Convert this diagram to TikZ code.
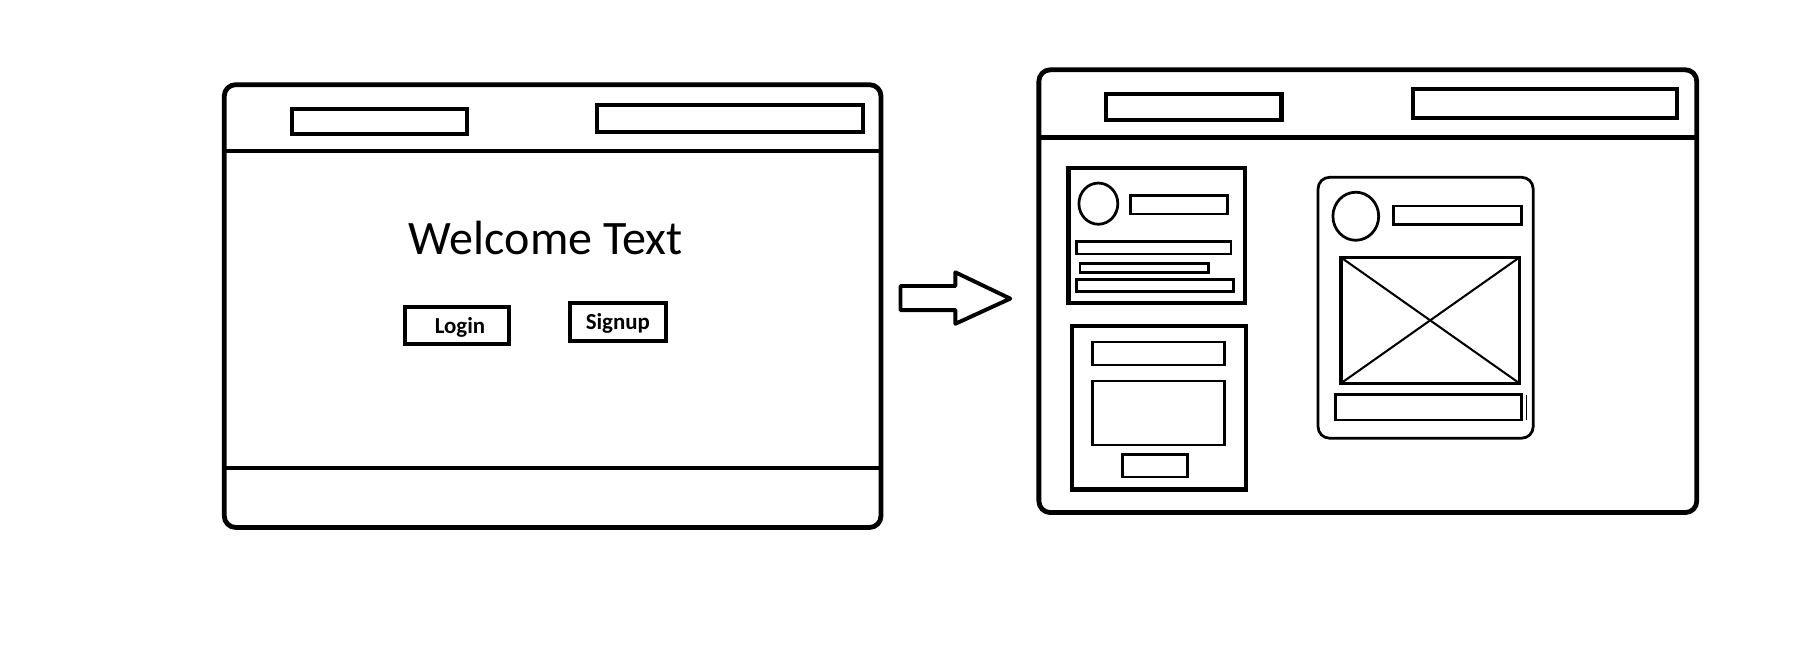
\documentclass[tikz,border=0pt]{standalone}
\usepackage{fontspec}
\setmainfont{Carlito}
\begin{document}
\begin{tikzpicture}[x=0.5pt,y=-0.5pt,
  frame/.style={line width=2.1pt, rounded corners=5pt, line join=round},
  rule/.style={line width=2.1pt},
  bar/.style={line width=1.8pt},
  card/.style={line width=2pt},
  slim/.style={line width=1.2pt},
  label/.style={inner sep=0pt, font=\fontsize{10pt}{12pt}\selectfont\bfseries}]
\useasboundingbox[fill=white] (0,0) rectangle (1568,566);

% ---- welcome page ----
\draw[frame] (196,74) rectangle (770,461);
\draw[rule] (196,132) -- (770,132);
\draw[rule] (196,409) -- (770,409);
\draw[bar] (255,95) rectangle (408,117);
\draw[bar] (522,92) rectangle (754,115);
\node[inner sep=0pt, font=\fontsize{21pt}{25pt}\selectfont] (welcome) at (477,208) {Welcome Text};
\draw[bar] (354,268) rectangle (445,301);
\node[label] (login) at (402,286) {Login};
\draw[bar] (498,265) rectangle (582,298);
\node[label] (signup) at (540,283) {Signup};

% ---- transition arrow ----
\draw[line width=1.7pt, line join=round]
  (787,250) -- (835,250) -- (835,238) -- (883,261) -- (835,283) -- (835,271) -- (787,271) -- cycle;

% ---- dashboard page ----
\draw[frame] (908,61) rectangle (1483,448);
\draw[rule] (908,120) -- (1483,120);
\draw[bar] (967,82) rectangle (1120,105);
\draw[bar] (1235,78) rectangle (1466,103);
\draw[line width=1.2pt] (906,397) -- (909,397);
\draw[line width=1.2pt] (1482,397) -- (1485,397);

% profile card
\draw[card] (934,147) rectangle (1088,265);
\draw[slim] (960,178) ellipse [x radius=17, y radius=18];
\draw[slim] (988,171) rectangle (1073,187);
\draw[slim] (941,211) rectangle (1076,222);
\draw[slim] (944,230) rectangle (1056,238);
\draw[slim] (941,244) rectangle (1078,255);

% form card
\draw[card] (937,285) rectangle (1089,428);
\draw[slim] (955,299) rectangle (1070,319);
\draw[slim] (955,333) rectangle (1070,389);
\draw[slim] (981,397) rectangle (1038,417);

% post card
\draw[slim, rounded corners=5pt] (1152,155) rectangle (1340,383);
\draw[slim] (1185,189) ellipse [x radius=20, y radius=21];
\draw[slim] (1218,180) rectangle (1330,196);
\draw[line width=1.4pt] (1172,225) rectangle (1328,335);
\draw[line width=0.9pt] (1172,225) -- (1328,335);
\draw[line width=0.9pt] (1328,225) -- (1172,335);
\draw[slim] (1167,345) rectangle (1330,367);
\draw[line width=0.5pt] (1334,345) -- (1334,367);
\end{tikzpicture}
\end{document}
